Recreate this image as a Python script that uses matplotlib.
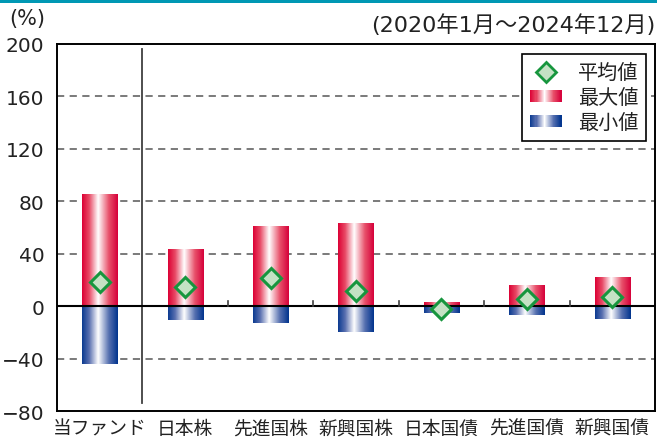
import numpy as np
import matplotlib
matplotlib.use("Agg")
import matplotlib.pyplot as plt
from matplotlib.colors import LinearSegmentedColormap
from matplotlib.patches import Rectangle
from matplotlib.lines import Line2D
from matplotlib.legend_handler import HandlerBase

plt.rcParams['font.family'] = ['Noto Sans CJK JP', 'DejaVu Sans']
NUMFONT = ['DejaVu Sans', 'Noto Sans CJK JP']

categories = ["当ファンド", "日本株", "先進国株", "新興国株", "日本国債", "先進国債", "新興国債"]
max_vals = [84.8, 42.8, 60.3, 63.3, 2.7, 15.7, 21.5]
min_vals = [-44.4, -10.2, -12.7, -19.5, -5.6, -6.6, -9.7]
avg_vals = [18.5, 14.7, 21.5, 11.6, -1.8, 5.3, 6.8]
yticks = [-80, -40, 0, 40, 80, 120, 160, 200]

red_cmap = LinearSegmentedColormap.from_list(
    "red", [(0, "#dc0034"), (0.2, "#e84a66"), (0.45, "#ffffff"), (0.75, "#e8506a"), (1, "#d6003a")])
blue_cmap = LinearSegmentedColormap.from_list(
    "blue", [(0, "#0a3a90"), (0.2, "#5a70b0"), (0.45, "#ffffff"), (0.75, "#5670b0"), (1, "#00338d")])

fig = plt.figure(figsize=(6.57, 4.39), dpi=100)
# top teal band
fig.patches.append(Rectangle((0, 1 - 4 / 439), 1, 4 / 439, transform=fig.transFigure,
                             facecolor="#0098b4", edgecolor="none"))
ax = fig.add_axes([57 / 657, 27 / 439, 598 / 657, 367 / 439])

grad = np.linspace(0, 1, 256).reshape(1, -1)
w = 0.41
for i, (mx, mn) in enumerate(zip(max_vals, min_vals)):
    ax.imshow(grad, cmap=red_cmap, extent=[i - w / 2, i + w / 2, 0, mx],
              aspect="auto", interpolation="bilinear", zorder=2)
    ax.imshow(grad, cmap=blue_cmap, extent=[i - w / 2, i + w / 2, mn, 0],
              aspect="auto", interpolation="bilinear", zorder=2)

ax.plot(range(len(categories)), avg_vals, linestyle="none", marker="D", markersize=10.5,
        markerfacecolor="#c4e2c4", markeredgecolor="#17963e", markeredgewidth=2.2, zorder=5)

for y in [-40, 40, 80, 120, 160]:
    ax.axhline(y, color="#707070", linestyle=(0, (4, 3)), linewidth=1.3, zorder=1)
ax.axhline(0, color="black", linewidth=1.5, zorder=3)

# separator line after the fund
ax.plot([0.5, 0.5], [-74, 196], color="#404040", linewidth=1.3, zorder=1)
# small boundary ticks at zero
for b in [1.5, 2.5, 3.5, 4.5, 5.5]:
    ax.plot([b, b], [0, 4], color="#404040", linewidth=1.2, zorder=3)

ax.set_xlim(-0.5, len(categories) - 0.5)
ax.set_ylim(-80, 200)
ax.set_yticks(yticks)
ax.set_yticklabels([("−" + str(-t)) if t < 0 else str(t) for t in yticks],
                   fontsize=14.5, family=NUMFONT)
ax.set_xticks(range(len(categories)))
ax.set_xticklabels(categories, fontsize=13.5)
ax.tick_params(axis="both", length=0, colors="#222222")
ax.tick_params(axis="y", pad=9)
ax.tick_params(axis="x", pad=5)
for s in ax.spines.values():
    s.set_linewidth(1.4)
    s.set_color("black")

fig.text(9 / 657, 1 - 19 / 439, "(%)", fontsize=15, va="center", ha="left",
         color="#222222", family=NUMFONT)
fig.text(655 / 657, 1 - 25 / 439, "(2020年1月～2024年12月)", fontsize=16, va="center",
         ha="right", color="#222222", family=NUMFONT)


class GradProxy:
    def __init__(self, cmap):
        self.cmap = cmap


class HandlerGradient(HandlerBase):
    def create_artists(self, legend, orig_handle, xdescent, ydescent, width, height,
                       fontsize, trans):
        n = 30
        arts = []
        h = height * 0.95
        y0 = -ydescent + (height - h) / 2
        for k in range(n):
            c = orig_handle.cmap((k + 0.5) / n)
            r = Rectangle((-xdescent + width * k / n, y0), width / n + 0.3, h,
                          facecolor=c, edgecolor="none", transform=trans)
            arts.append(r)
        return arts


h_avg = Line2D([], [], linestyle="none", marker="D", markersize=10,
               markerfacecolor="#c4e2c4", markeredgecolor="#17963e", markeredgewidth=2)
h_max = GradProxy(red_cmap)
h_min = GradProxy(blue_cmap)
leg = ax.legend([h_avg, h_max, h_min], ["平均値", "最大値", "最小値"],
                handler_map={GradProxy: HandlerGradient()},
                loc="upper right", bbox_to_anchor=(0.985, 0.972), fontsize=14.5,
                frameon=True, fancybox=False, edgecolor="black", framealpha=1,
                handlelength=1.55, handleheight=0.6, handletextpad=0.8,
                labelspacing=0.2, borderpad=0.4, borderaxespad=0)
leg.get_frame().set_linewidth(1.2)
for t in leg.get_texts():
    t.set_color("#222222")

fig.savefig("out.png", dpi=100)
